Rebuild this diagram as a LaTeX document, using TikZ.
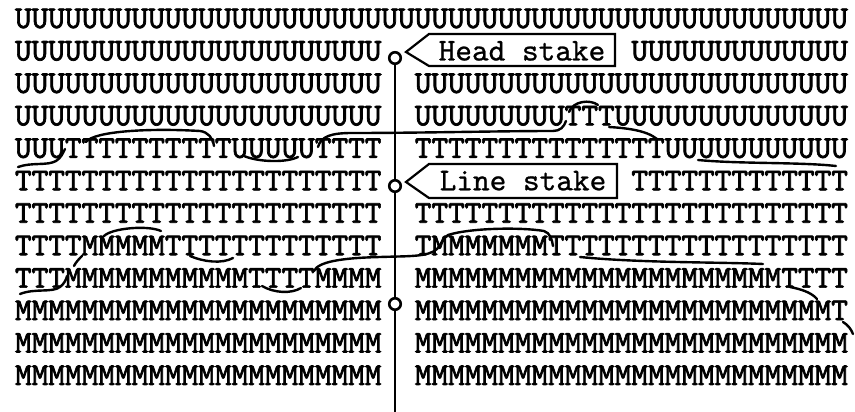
\documentclass[tikz,border=0pt]{standalone}
\usepackage{fontspec}
\newfontfamily\gridfam{lmmono10-regular}[Extension=.otf, FakeBold=2.2]
\newfontfamily\lblfam{lmmono10-regular}[Extension=.otf, FakeBold=0.8]
\newcommand\reptxt[2]{\ifnum#1>0 #2\expandafter\reptxt\expandafter{\the\numexpr#1-1\relax}{#2}\fi}
\newcommand\gridf{\fontsize{31.73}{32}\selectfont\gridfam}
\newcommand\lblf{\fontsize{31.73}{32}\selectfont\lblfam}
\begin{document}
\begin{tikzpicture}[x=1pt,y=-1pt,
  row/.style={anchor=base west, inner sep=0pt, outer sep=0pt, font=\gridf},
  lbl/.style={anchor=base, inner sep=0pt, outer sep=0pt, font=\lblf},
  stakeline/.style={line width=2.8pt},
  ring/.style={circle, draw, line width=2.6pt, fill=white, minimum size=11.5pt, inner sep=0pt},
  tag/.style={line width=2.2pt, line join=miter},
  zone/.style={line width=2.4pt, line cap=round}]
\fill[white] (0,0) rectangle (855,412);
\useasboundingbox (0,0) rectangle (855,412);
% rows: left block col0 x=15, right block col24 x=414.8, after tags col37 x=631.4
\node[row] (r1) at (15,28) {\reptxt{50}{U}};
\node[row] (r2a) at (15,60.45) {\reptxt{22}{U}};
\node[row] (r2b) at (631.4,60.45) {\reptxt{13}{U}};
\node[row] (r3a) at (15,92.9) {\reptxt{22}{U}};
\node[row] (r3b) at (414.8,92.9) {\reptxt{26}{U}};
\node[row] (r4a) at (15,125.35) {\reptxt{22}{U}};
\node[row] (r4b) at (414.8,125.35) {\reptxt{9}{U}TTT\reptxt{14}{U}};
\node[row] (r5a) at (15,157.8) {UUU\reptxt{10}{T}UUUUUTTTT};
\node[row] (r5b) at (414.8,157.8) {\reptxt{15}{T}\reptxt{11}{U}};
\node[row] (r6a) at (15,190.25) {\reptxt{22}{T}};
\node[row] (r6b) at (631.4,190.25) {\reptxt{13}{T}};
\node[row] (r7a) at (15,222.7) {\reptxt{22}{T}};
\node[row] (r7b) at (414.8,222.7) {\reptxt{26}{T}};
\node[row] (r8a) at (15,255.15) {TTTT\reptxt{5}{M}\reptxt{13}{T}};
\node[row] (r8b) at (414.8,255.15) {T\reptxt{7}{M}\reptxt{18}{T}};
\node[row] (r9a) at (15,287.6) {TTT\reptxt{11}{M}TTTTMMMM};
\node[row] (r9b) at (414.8,287.6) {\reptxt{22}{M}TTTT};
\node[row] (r10a) at (15,320.05) {\reptxt{22}{M}};
\node[row] (r10b) at (414.8,320.05) {\reptxt{25}{M}T};
\node[row] (r11a) at (15,352.5) {\reptxt{22}{M}};
\node[row] (r11b) at (414.8,352.5) {\reptxt{26}{M}};
\node[row] (r12a) at (15,384.95) {\reptxt{22}{M}};
\node[row] (r12b) at (414.8,384.95) {\reptxt{26}{M}};
% stake line
\coordinate (stop) at (395,58);
\coordinate (sbot) at (395,412);
\draw[stakeline] (stop) -- (sbot);
\node[ring] (c1) at (stop) {};
\node[ring] (c2) at (395,186) {};
\node[ring] (c3) at (395,304) {};
% tags
\coordinate (ht) at (406,52);
\draw[tag] (ht) -- (429,34) -- (615,34) -- (615,66) -- (429,66) -- cycle;
\node[lbl] (hs) at (522,60.45) {Head stake};
\coordinate (lt) at (406,182);
\draw[tag] (lt) -- (429,164) -- (617,164) -- (617,198) -- (429,198) -- cycle;
\node[lbl] (ls) at (523,190.25) {Line stake};
% boundary U/T
\draw[zone] (18,167) .. controls (32,162) and (47,166) .. (56,161) .. controls (61,158) and (63,153) .. (65,149);
\draw[zone] (86,142) .. controls (94,131) and (150,128) .. (200,131) .. controls (208,132) and (213,138) .. (214,146);
\draw[zone] (244,156) .. controls (258,162) and (286,163) .. (298,157);
\draw[zone] (318,147) .. controls (321,136) and (332,133) .. (352,133) .. controls (420,133) and (500,131) .. (553,131) .. controls (560,131) and (564,127) .. (566,121);
\draw[zone] (569,112) .. controls (573,101) and (590,99) .. (598,105);
\draw[zone] (609,127) .. controls (625,128) and (646,130) .. (657,139);
\draw[zone] (698,160) .. controls (740,164) and (800,162) .. (836,166);
% boundary T/M
\draw[zone] (20,294) .. controls (35,288) and (52,293) .. (60,287) .. controls (64,284) and (66,280) .. (67,276);
\draw[zone] (74,266) .. controls (76,262) and (79,259) .. (82,256);
\draw[zone] (104,236) .. controls (112,228) and (148,225) .. (161,231);
\draw[zone] (190,256) .. controls (204,262) and (222,264) .. (233,258);
\draw[zone] (262,286) .. controls (274,293) and (291,294) .. (301,288);
\draw[zone] (314,271) .. controls (318,262) and (340,258) .. (380,257) .. controls (410,256) and (428,257) .. (437,249) .. controls (441,245) and (442,239) .. (448,235) .. controls (470,228) and (520,227) .. (544,231) .. controls (550,233) and (552,239) .. (553,246);
\draw[zone] (580,257) .. controls (640,263) and (720,262) .. (763,264);
\draw[zone] (790,287) .. controls (800,289) and (811,292) .. (817,299);
\draw[zone] (843,322) .. controls (848,325) and (851,329) .. (853,334);
\end{tikzpicture}
\end{document}
